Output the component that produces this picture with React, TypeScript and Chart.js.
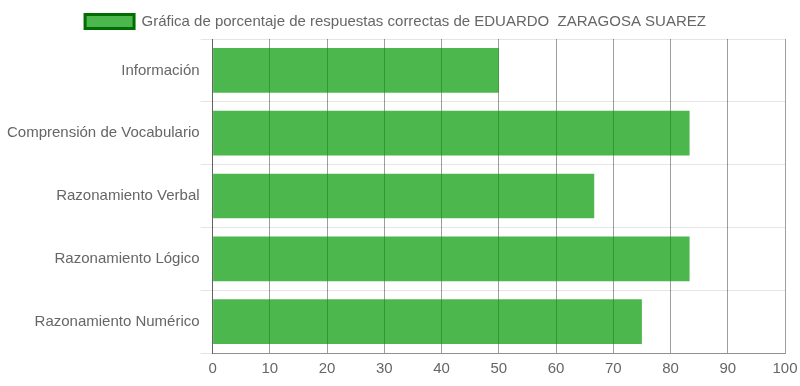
import React, { useEffect, useRef } from "react";
import { Chart, registerables } from "chart.js";

Chart.register(...registerables);

const categories = [
  "Información",
  "Comprensión de Vocabulario",
  "Razonamiento Verbal",
  "Razonamiento Lógico",
  "Razonamiento Numérico",
];
const values = [50, 83.33, 66.67, 83.33, 75];
const seriesLabel = "Gráfica de porcentaje de respuestas correctas de EDUARDO  ZARAGOSA SUAREZ";
const xMin = 0;
const xMax = 100;
const xStep = 10;

export default function App() {
  const ref = useRef<HTMLCanvasElement | null>(null);
  useEffect(() => {
    if (!ref.current) return;
    const font = { family: "'Liberation Sans', Arial, sans-serif", size: 15 };
    const chart = new Chart(ref.current, {
      type: "bar",
      data: {
        labels: categories,
        datasets: [
          {
            label: seriesLabel,
            data: values,
            backgroundColor: "rgba(0,152,0,0.7)",
            borderColor: "#007a00",
            borderWidth: 0,
            categoryPercentage: 0.8,
            barPercentage: 0.89,
          },
        ],
      },
      options: {
        indexAxis: "y",
        responsive: true,
        maintainAspectRatio: false,
        animation: false,
        layout: { padding: { left: 6, right: 15, top: 2, bottom: 6 } },
        plugins: {
          tooltip: { enabled: false },
          legend: {
            position: "top",
            labels: {
              color: "#666",
              font,
              boxWidth: 49,
              boxHeight: 14,
              padding: 12,
              generateLabels: (c: any) =>
                c.data.datasets.map((ds: any, i: number) => ({
                  text: ds.label,
                  fillStyle: "rgba(0,152,0,0.7)",
                  strokeStyle: "#006e00",
                  lineWidth: 3,
                  fontColor: "#666",
                  hidden: false,
                  datasetIndex: i,
                })),
            },
          },
        },
        scales: {
          x: {
            min: xMin,
            max: xMax,
            ticks: { stepSize: xStep, color: "#666", font, padding: 2 },
            grid: {
              color: "rgba(0,0,0,0.38)",
              drawTicks: true,
              tickLength: 5,
              tickColor: "rgba(0,0,0,0)",
            },
            border: { color: "rgba(0,0,0,0.38)" },
          },
          y: {
            ticks: { color: "#666", font, padding: 1 },
            grid: { color: "rgba(0,0,0,0.1)", offset: true, tickLength: 12 },
            border: { color: "rgba(0,0,0,0.38)" },
          },
        },
      },
    });
    return () => chart.destroy();
  }, []);
  return (
    <div style={{ position: "fixed", left: 0, top: 0, width: 800, height: 386 }}>
      <canvas ref={ref} />
    </div>
  );
}
